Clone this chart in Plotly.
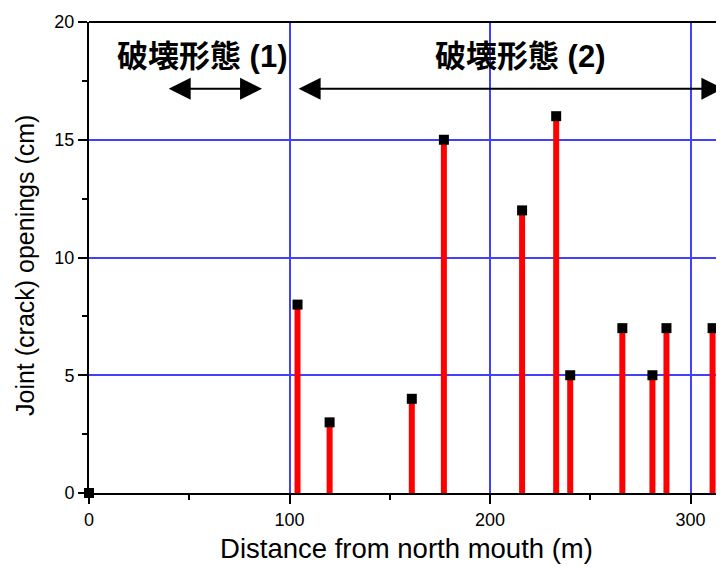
import plotly.graph_objects as go

# Data
distance_m = [0, 104, 120, 161, 177, 216, 233, 240, 266, 281, 288, 311]
opening_cm = [0, 8, 3, 4, 15, 12, 16, 5, 7, 5, 7, 7]

x_ticks = [0, 100, 200, 300]
y_ticks = [0, 5, 10, 15, 20]

label1 = "破壊形態 (1)"
label2 = "破壊形態 (2)"

# Stems built from the data
stem_x, stem_y = [], []
for xv, yv in zip(distance_m, opening_cm):
    stem_x += [xv, xv, None]
    stem_y += [0, yv, None]

fig = go.Figure()
fig.add_trace(go.Scatter(x=stem_x, y=stem_y, mode="lines",
                         line=dict(color="#ff0000", width=6),
                         hoverinfo="skip", showlegend=False, cliponaxis=False))
fig.add_trace(go.Scatter(x=distance_m, y=opening_cm, mode="markers",
                         marker=dict(symbol="square", size=10, color="black"),
                         showlegend=False, cliponaxis=False))

axis_font = dict(family="Liberation Sans, Arial", size=18, color="black")
grid_blue = "#4040ff"

fig.update_xaxes(range=[0, 316.7], tickvals=x_ticks, ticks="outside", ticklen=9,
                 tickwidth=2, tickcolor="black", showline=True, linecolor="black",
                 linewidth=2, showgrid=True, gridcolor=grid_blue, gridwidth=2,
                 zeroline=False, tickfont=axis_font,
                 minor=dict(dtick=50, tick0=0, ticks="outside", ticklen=5, tickwidth=2,
                            tickcolor="black", showgrid=False),
                 title=dict(text="Distance from north mouth (m)",
                            font=dict(family="Liberation Sans, Arial", size=27.5, color="black"),
                            standoff=10))
fig.update_yaxes(range=[0, 20], tickvals=y_ticks, ticks="outside", ticklen=9,
                 tickwidth=2, tickcolor="black", showline=True, linecolor="black",
                 linewidth=2, showgrid=True, gridcolor=grid_blue, gridwidth=2,
                 zeroline=False, tickfont=axis_font,
                 minor=dict(dtick=2.5, tick0=0, ticks="outside", ticklen=5, tickwidth=2,
                            tickcolor="black", showgrid=False))

# y-axis title as a rotated annotation
fig.add_annotation(text="Joint (crack) openings (cm)", xref="paper", yref="paper",
                   x=-0.1008, y=0.484, xanchor="center", yanchor="middle",
                   textangle=-90, showarrow=False,
                   font=dict(family="Liberation Sans, Arial", size=25, color="black"))

# top frame line
fig.add_shape(type="line", xref="paper", yref="paper", x0=0, x1=1, y0=1, y1=1,
              line=dict(color="black", width=2))

cjk_font = dict(family="Liberation Sans, Noto Sans CJK JP", size=31, color="black")
fig.add_annotation(x=56.6, y=18.52, text="<b>" + label1 + "</b>", showarrow=False,
                   font=cjk_font, xref="x", yref="y")
fig.add_annotation(x=215.4, y=18.52, text="<b>" + label2 + "</b>", showarrow=False,
                   font=cjk_font, xref="x", yref="y")

arrow_common = dict(xref="x", yref="y", axref="x", ayref="y", text="", showarrow=True,
                    arrowhead=2, startarrowhead=2, arrowside="end+start",
                    arrowwidth=2, arrowsize=2.2, startarrowsize=2.2, arrowcolor="black")
fig.add_annotation(x=86.3, y=17.17, ax=39.0, ay=17.17, **arrow_common)
fig.add_annotation(x=316.4, y=17.17, ax=103.8, ay=17.17, **arrow_common)

# page body has an 8px margin, so the figure is sized to end at the window edge
fig.update_layout(width=716, height=560, margin=dict(l=81, r=0, t=14, b=75),
                  plot_bgcolor="white", paper_bgcolor="white",
                  font=dict(family="Liberation Sans, Arial", color="black"))

fig.write_html("out.html")
